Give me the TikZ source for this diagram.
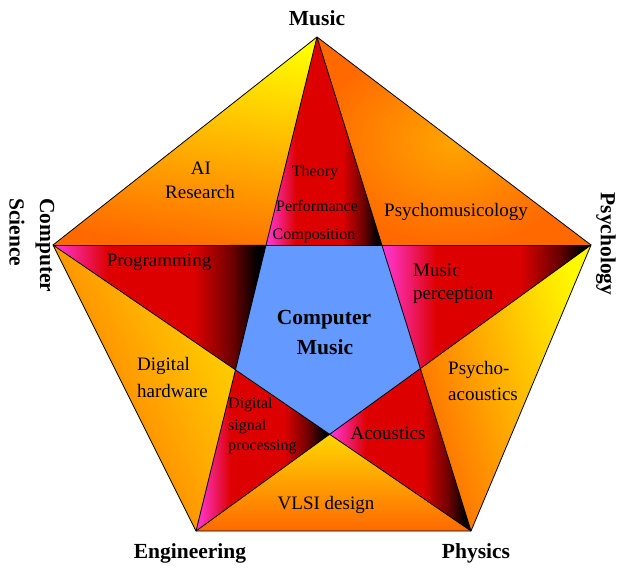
\documentclass[tikz,border=0pt]{standalone}
\usepackage{fontspec}
\setmainfont{Liberation Serif}
\usetikzlibrary{calc}
\definecolor{mag}{RGB}{255,51,204}
\definecolor{rd}{RGB}{221,0,0}
\definecolor{drk}{RGB}{110,0,0}
\definecolor{org}{RGB}{255,105,0}
\definecolor{yel}{RGB}{255,250,0}
\definecolor{yel2}{RGB}{255,215,0}
\definecolor{amb}{RGB}{255,165,0}
\definecolor{cblue}{RGB}{100,153,255}
\pgfdeclarehorizontalshading{redgrad}{100bp}{color(0bp)=(mag); color(26bp)=(mag); color(38bp)=(rd); color(58bp)=(rd); color(67bp)=(drk); color(73bp)=(black); color(100bp)=(black)}
\begin{document}
\begin{tikzpicture}[x=1pt,y=-1pt,
  lbl/.style={inner sep=0pt, font=\fontsize{19}{19}\selectfont},
  sml/.style={inner sep=0pt, font=\fontsize{16}{16}\selectfont},
  big/.style={inner sep=0pt, font=\fontsize{21.5}{21.5}\selectfont\bfseries},
  edgeline/.style={line width=0.8pt, black, line join=miter}]
\useasboundingbox (0,0) rectangle (617,567);
\coordinate (M) at (317,37);
\coordinate (C) at (53,245);
\coordinate (P) at (591,245);
\coordinate (E) at (196,531);
\coordinate (Ph) at (471,531);
\coordinate (I1) at (intersection of M--E and C--P);
\coordinate (I2) at (intersection of M--Ph and C--P);
\coordinate (I3) at (intersection of M--E and C--Ph);
\coordinate (I4) at (intersection of M--Ph and P--E);
\coordinate (I5) at (intersection of C--Ph and P--E);
% outer regions
\shade[top color=yel, bottom color=org, shading angle=-10] (M) -- (C) -- (I1) -- cycle;
\shade[inner color=amb, outer color=org] (M) -- (P) -- (I2) -- cycle;
\shade[top color=yel, bottom color=org, shading angle=-72.5] (P) -- (Ph) -- (I4) -- cycle;
\shade[top color=yel2, bottom color=org] (E) -- (Ph) -- (I5) -- cycle;
\shade[top color=yel2, bottom color=org, shading angle=-63.4] (C) -- (E) -- (I3) -- cycle;
% star points
\shade[shading=redgrad] (M) -- (I1) -- (I2) -- cycle;
\shade[shading=redgrad] (C) -- (I1) -- (I3) -- cycle;
\shade[shading=redgrad] (P) -- (I2) -- (I4) -- cycle;
\shade[shading=redgrad] (Ph) -- (I4) -- (I5) -- cycle;
\shade[shading=redgrad] (E) -- (I3) -- (I5) -- cycle;
% centre
\fill[cblue] (I1) -- (I2) -- (I4) -- (I5) -- (I3) -- cycle;
% lines
\draw[edgeline] (M) -- (P) -- (Ph) -- (E) -- (C) -- cycle;
\draw[edgeline] (M) -- (E);
\draw[edgeline] (M) -- (Ph);
\draw[edgeline] (C) -- (P);
\draw[edgeline] (C) -- (Ph);
\draw[edgeline] (P) -- (E);
% labels
\node[big] (tMusic) at (317,18) {Music};
\node[big, rotate=-90, anchor=west] (tComp) at (45,198) {Computer};
\node[big, rotate=-90, anchor=west] (tSci) at (17,198) {Science};
\node[big, rotate=-90] (tPsy) at (606,244) {Psychology};
\node[big] (tEng) at (190,553) {Engineering};
\node[big] (tPhy) at (476,553) {Physics};
\node[big] (tCM1) at (324,320) {Computer};
\node[big] (tCM2) at (325,347) {Music};
\node[lbl] (tAI) at (201,168) {AI};
\node[lbl] (tRes) at (200,192) {Research};
\node[sml] (tThe) at (315,173) {Theory};
\node[sml] (tPerf) at (317,206) {Performance};
\node[sml] (tCompo) at (314,236) {Composition};
\node[lbl] (tPsm) at (456,212) {Psychomusicology};
\node[lbl] (tProg) at (159,262) {Programming};
\node[lbl, anchor=west] (tMus) at (413,270) {Music};
\node[lbl, anchor=west] (tPer) at (413,295) {perception};
\node[lbl, anchor=west] (tDig) at (137,366) {Digital};
\node[lbl, anchor=west] (tHw) at (137,391) {hardware};
\node[lbl, anchor=west] (tPa1) at (448,370) {Psycho-};
\node[lbl, anchor=west] (tPa2) at (448,394) {acoustics};
\node[lbl] (tAc) at (388,433) {Acoustics};
\node[sml, anchor=west] (tD1) at (228,405) {Digital};
\node[sml, anchor=west] (tD2) at (228,427) {signal};
\node[sml, anchor=west] (tD3) at (228,447) {processing};
\node[lbl] (tVL) at (326,505) {VLSI design};
\end{tikzpicture}
\end{document}
